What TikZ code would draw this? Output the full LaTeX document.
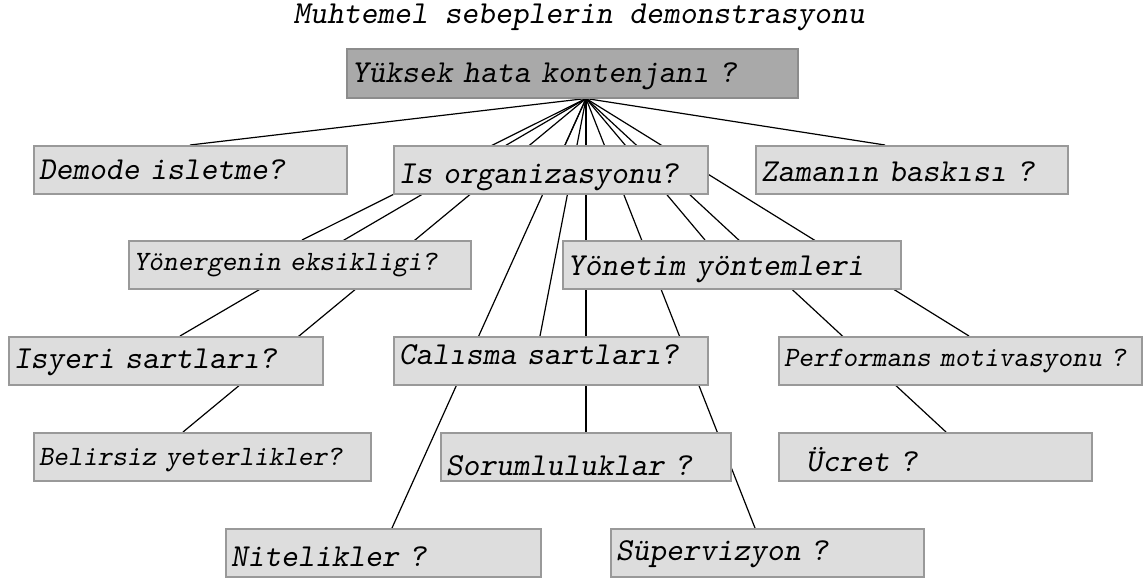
\documentclass[tikz,border=0pt]{standalone}
\usepackage{fontspec}
\usetikzlibrary{backgrounds}
\definecolor{boxfill}{HTML}{DDDDDD}
\definecolor{boxline}{HTML}{999999}
\definecolor{rootfill}{HTML}{A9A9A9}
\definecolor{rootline}{HTML}{8C8C8C}
\newcommand{\lowertext}[2]{\raisebox{#1}[\height][\depth]{#2}}

\begin{document}
\begin{tikzpicture}[x=1pt, y=-1pt,
  every node/.style={font=\ttfamily\slshape\fontsize{32}{34}\selectfont},
  box/.style={draw=boxline, fill=boxfill, line width=1.5pt, anchor=north west,
    inner xsep=5pt, inner ysep=0pt, minimum height=48pt, text width=#1, align=left},
  small/.style={font=\ttfamily\slshape\fontsize{28}{30}\selectfont},
  link/.style={line width=1.2pt}]
\useasboundingbox (0, 0) rectangle (1143, 582);

\draw (579, 17) node (title) {Muhtemel sebeplerin demonstrasyonu};
\draw (346, 48) node[box=441, draw=rootline, fill=rootfill, minimum height=49pt] (root) {\lowertext{-3pt}{Yüksek hata kontenjanı ?}};
\coordinate (hub) at ([xshift=240pt]root.south west);

\draw (33, 145) node[box=303] (demode) {Demode isletme?};
\draw (393, 145) node[box=304] (isorg) {\lowertext{-8pt}{Is organizasyonu?}};
\draw (755, 145) node[box=302] (zaman) {\lowertext{-2pt}{Zamanın baskısı ?}};

\draw (128, 240) node[box=332, small] (yonerge) {Yönergenin eksikligi?};
\draw (562, 240) node[box=328] (yonetim) {\lowertext{-5pt}{Yönetim yöntemleri}};

\draw (8, 336) node[box=304] (isyeri) {\lowertext{-2pt}{Isyeri sartları?}};
\draw (393, 336) node[box=304] (calisma) {\lowertext{6pt}{Calısma sartları?}};
\draw (778, 336) node[box=353, small] (perform) {Performans motivasyonu ?};

\draw (33, 432) node[box=327, small] (belirsiz) {\lowertext{-3pt}{Belirsiz yeterlikler?}};
\draw (440, 432) node[box=280] (sorum) {\lowertext{-9pt}{Sorumluluklar ?}};
\draw (778, 432) node[box=303] (ucret) {\lowertext{-3pt}{\hspace{22pt}Ücret ?}};

\draw (225, 528) node[box=305] (nitelik) {\lowertext{-4pt}{Nitelikler ?}};
\draw (610, 528) node[box=303] (superv) {\lowertext{-1pt}{Süpervizyon ?}};

\begin{scope}[on background layer]
\draw[link] (hub) -- ([xshift=157pt]demode.north west);
\draw[link] (hub) -- ([xshift=172pt]isorg.north west);
\draw[link] (hub) -- ([xshift=130pt]zaman.north west);
\draw[link] (hub) -- ([xshift=174pt]yonerge.north west);
\draw[link] (hub) -- ([xshift=143pt]yonetim.north west);
\draw[link] (hub) -- ([xshift=172pt]isyeri.north west);
\draw[link] (hub) -- ([xshift=147pt]calisma.north west);
\draw[link] (hub) -- ([xshift=191pt]perform.north west);
\draw[link] (hub) -- ([xshift=150pt]belirsiz.north west);
\draw[link] (hub) -- ([xshift=146pt]sorum.north west);
\draw[link] (hub) -- ([xshift=168pt]ucret.north west);
\draw[link] (hub) -- ([xshift=167pt]nitelik.north west);
\draw[link] (hub) -- ([xshift=145pt]superv.north west);
\end{scope}

\end{tikzpicture}
\end{document}
